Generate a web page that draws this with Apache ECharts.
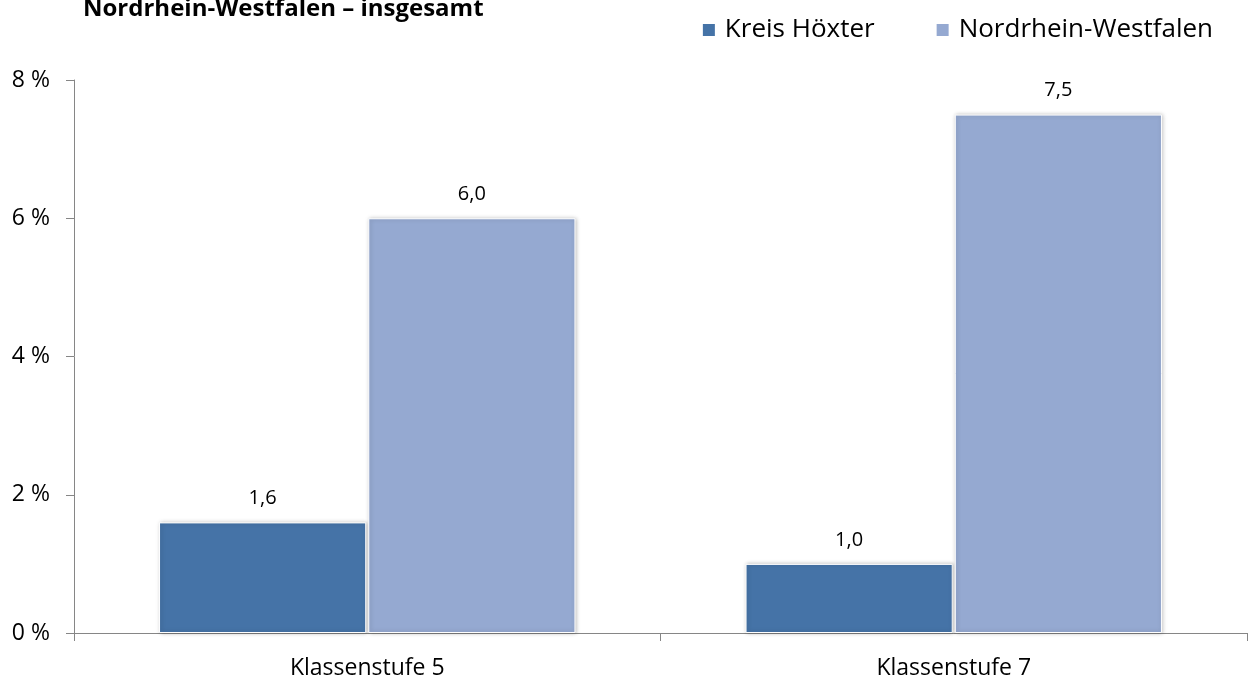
<!DOCTYPE html>
<html>
<head>
<meta charset="utf-8">
<script src="https://cdn.jsdelivr.net/npm/echarts@6/dist/echarts.min.js"></script>
<style>
  html, body { margin: 0; padding: 0; background: #fff; }
  #chart { width: 1248px; height: 680px; }
</style>
</head>
<body>
<div id="chart"></div>
<script>
// Daten
var categories = ['Klassenstufe 5', 'Klassenstufe 7'];
var seriesNames = ['Kreis Höxter', 'Nordrhein-Westfalen'];
var kreisValues = [1.6, 1.0];
var nrwValues = [6.0, 7.5];
var yTicks = [0, 2, 4, 6, 8];

var font = '"Open Sans", sans-serif';
var fmt = function (v) { return v.toFixed(1).replace('.', ','); };

var chart = echarts.init(document.getElementById('chart'));
chart.setOption({
  animation: false,
  title: {
    text: 'Nordrhein-Westfalen – insgesamt',
    left: 78,
    top: -8,
    textStyle: { fontFamily: font, fontSize: 24, fontWeight: 'bold', color: '#000' }
  },
  legend: {
    data: seriesNames,
    right: 30,
    top: 12,
    itemWidth: 14,
    itemHeight: 14,
    itemGap: 60,
    icon: 'rect',
    textStyle: { fontFamily: font, fontSize: 26, color: '#000', padding: [0, 0, 0, 4] }
  },
  grid: { left: 74, right: 1, top: 80, bottom: 47, containLabel: false },
  xAxis: {
    type: 'category',
    data: categories,
    axisLine: { lineStyle: { color: '#868686', width: 1 } },
    axisTick: { show: true, length: 8, lineStyle: { color: '#868686' } },
    axisLabel: { fontFamily: font, fontSize: 23, color: '#000', margin: 24 }
  },
  yAxis: {
    type: 'value',
    min: yTicks[0],
    max: yTicks[yTicks.length - 1],
    interval: 2,
    axisLine: { show: true, lineStyle: { color: '#868686' } },
    axisTick: { show: true, length: 8, lineStyle: { color: '#868686' } },
    splitLine: { show: false },
    axisLabel: {
      fontFamily: font, fontSize: 23, color: '#000', margin: 24,
      formatter: function (v) { return v + ' %'; }
    }
  },
  series: [
    {
      name: seriesNames[0],
      type: 'bar',
      data: kreisValues,
      barCategoryGap: '29%',
      barGap: '1%',
      itemStyle: {
        color: '#4573A7', borderColor: '#fff', borderWidth: 1,
        shadowColor: 'rgba(0,0,0,0.25)', shadowBlur: 4, shadowOffsetX: 1
      },
      label: {
        show: true, position: 'top', distance: 14,
        fontFamily: font, fontSize: 20, color: '#000',
        formatter: function (p) { return fmt(p.value); }
      }
    },
    {
      name: seriesNames[1],
      type: 'bar',
      data: nrwValues,
      itemStyle: {
        color: '#95A9D1', borderColor: '#fff', borderWidth: 1,
        shadowColor: 'rgba(0,0,0,0.25)', shadowBlur: 4, shadowOffsetX: 1
      },
      label: {
        show: true, position: 'top', distance: 14,
        fontFamily: font, fontSize: 20, color: '#000',
        formatter: function (p) { return fmt(p.value); }
      }
    }
  ]
});
</script>
</body>
</html>
